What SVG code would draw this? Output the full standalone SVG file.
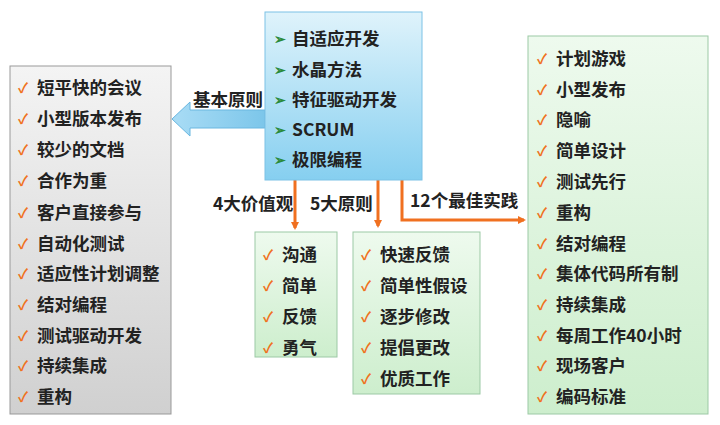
<svg xmlns="http://www.w3.org/2000/svg" width="720" height="425" viewBox="0 0 720 425">
<defs>
<linearGradient id="gg" x1="0" y1="0" x2="0" y2="1"><stop offset="0" stop-color="#f4f4f4"/><stop offset="1" stop-color="#d0d0d0"/></linearGradient>
<linearGradient id="gb" x1="0" y1="0" x2="0" y2="1"><stop offset="0" stop-color="#dff3fb"/><stop offset="1" stop-color="#86cff0"/></linearGradient>
<linearGradient id="gn" x1="0" y1="0" x2="0" y2="1"><stop offset="0" stop-color="#eefaee"/><stop offset="1" stop-color="#cdeecd"/></linearGradient>
<linearGradient id="ga" x1="0" y1="0" x2="1" y2="0"><stop offset="0" stop-color="#a9dcf5"/><stop offset="1" stop-color="#7cc6ea"/></linearGradient>
<marker id="ah" markerWidth="8" markerHeight="8" refX="6" refY="4" orient="auto" markerUnits="userSpaceOnUse"><path d="M0,0 L8,4 L0,8 Z" fill="#f07020"/></marker>
</defs>
<style>
text{font-family:"Noto Sans CJK SC","Liberation Sans",sans-serif;font-size:17.5px;font-weight:bold;fill:#222}
.ck{fill:#f07020;font-size:14px}
.tr{fill:#2a8a3a;font-size:14px}
.ln{stroke:#f07020;stroke-width:3;fill:none}
</style>
<rect width="720" height="425" fill="#fff"/>
<g id="connectors">
<path d="M265,110 L190,110 L190,102 L172,119 L190,136 L190,128 L265,128 Z" fill="url(#ga)" stroke="#6ab7e0" stroke-width="1"/>
<text x="193" y="106">基本原则</text>
<path class="ln" d="M276,172 L402,172"/>
<path class="ln" d="M295,172 L295,228" marker-end="url(#ah)"/>
<path class="ln" d="M378,172 L378,226" marker-end="url(#ah)"/>
<path class="ln" d="M402,172 L402,220 L524,220" marker-end="url(#ah)"/>
<text x="213" y="210">4大价值观</text>
<text x="310" y="210">5大原则</text>
<text x="410" y="207">12个最佳实践</text>
</g>
<g id="center">
<rect x="265" y="12" width="157" height="168" fill="url(#gb)" stroke="#7cc2e6"/>
<text class="tr" x="274" y="44">➢</text><text x="292" y="45">自适应开发</text>
<text class="tr" x="274" y="75">➢</text><text x="292" y="76">水晶方法</text>
<text class="tr" x="274" y="105">➢</text><text x="292" y="106">特征驱动开发</text>
<text class="tr" x="274" y="135">➢</text><text x="292" y="136">SCRUM</text>
<text class="tr" x="274" y="165">➢</text><text x="292" y="166">极限编程</text>
</g>
<g id="left">
<rect x="10" y="66" width="161" height="348" fill="url(#gg)" stroke="#999"/>
<text class="ck" x="18" y="93">✓</text><text x="37" y="94">短平快的会议</text>
<text class="ck" x="18" y="124">✓</text><text x="37" y="125">小型版本发布</text>
<text class="ck" x="18" y="155">✓</text><text x="37" y="156">较少的文档</text>
<text class="ck" x="18" y="186">✓</text><text x="37" y="187">合作为重</text>
<text class="ck" x="18" y="218">✓</text><text x="37" y="219">客户直接参与</text>
<text class="ck" x="18" y="249">✓</text><text x="37" y="250">自动化测试</text>
<text class="ck" x="18" y="279">✓</text><text x="37" y="280">适应性计划调整</text>
<text class="ck" x="18" y="310">✓</text><text x="37" y="311">结对编程</text>
<text class="ck" x="18" y="341">✓</text><text x="37" y="342">测试驱动开发</text>
<text class="ck" x="18" y="371">✓</text><text x="37" y="372">持续集成</text>
<text class="ck" x="18" y="402">✓</text><text x="37" y="403">重构</text>
</g>
<g id="values">
<rect x="255" y="232" width="82" height="125" fill="url(#gn)" stroke="#9cc9a5"/>
<text class="ck" x="263" y="260">✓</text><text x="282" y="261">沟通</text>
<text class="ck" x="263" y="291">✓</text><text x="282" y="292">简单</text>
<text class="ck" x="263" y="322">✓</text><text x="282" y="323">反馈</text>
<text class="ck" x="263" y="353">✓</text><text x="282" y="354">勇气</text>
</g>
<g id="principles">
<rect x="353" y="232" width="127" height="162" fill="url(#gn)" stroke="#9cc9a5"/>
<text class="ck" x="361" y="260">✓</text><text x="380" y="261">快速反馈</text>
<text class="ck" x="361" y="291">✓</text><text x="380" y="292">简单性假设</text>
<text class="ck" x="361" y="322">✓</text><text x="380" y="323">逐步修改</text>
<text class="ck" x="361" y="353">✓</text><text x="380" y="354">提倡更改</text>
<text class="ck" x="361" y="384">✓</text><text x="380" y="385">优质工作</text>
</g>
<g id="practices">
<rect x="528" y="36" width="180" height="378" fill="url(#gn)" stroke="#9cc9a5"/>
<text class="ck" x="537" y="64">✓</text><text x="556" y="65">计划游戏</text>
<text class="ck" x="537" y="95">✓</text><text x="556" y="96">小型发布</text>
<text class="ck" x="537" y="125">✓</text><text x="556" y="126">隐喻</text>
<text class="ck" x="537" y="156">✓</text><text x="556" y="157">简单设计</text>
<text class="ck" x="537" y="187">✓</text><text x="556" y="188">测试先行</text>
<text class="ck" x="537" y="218">✓</text><text x="556" y="219">重构</text>
<text class="ck" x="537" y="249">✓</text><text x="556" y="250">结对编程</text>
<text class="ck" x="537" y="279">✓</text><text x="556" y="280">集体代码所有制</text>
<text class="ck" x="537" y="310">✓</text><text x="556" y="311">持续集成</text>
<text class="ck" x="537" y="341">✓</text><text x="556" y="342">每周工作40小时</text>
<text class="ck" x="537" y="371">✓</text><text x="556" y="372">现场客户</text>
<text class="ck" x="537" y="402">✓</text><text x="556" y="403">编码标准</text>
</g>
</svg>
